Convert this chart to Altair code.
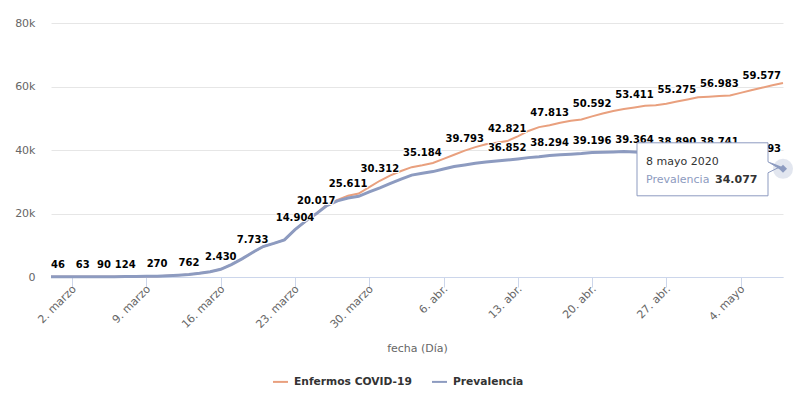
import json
import altair as alt
import pandas as pd

# ---------------- data ----------------
fechas = pd.date_range("2020-02-29", "2020-05-08", freq="D").strftime("%Y-%m-%d").tolist()
series_names = ["Enfermos COVID-19", "Prevalencia"]
colores = ["#e9a07e", "#8d9bc0"]
grosores = [2, 3]

enfermos = [46, 52, 58, 63, 76, 90, 105, 124, 170, 215,
            270, 420, 580, 762, 1150, 1650, 2430, 3900, 5700, 7733,
            9600, 10600, 11700, 14904, 17600, 20017, 22800, 24300, 25611, 26300,
            28300, 30312, 32000, 33400, 34600, 35184, 35900, 37200, 38500, 39793,
            40900, 41800, 42300, 42821, 44300, 46000, 47200, 47813, 48600, 49200,
            49600, 50592, 51500, 52300, 52900, 53411, 53900, 54100, 54600, 55275,
            55900, 56600, 56800, 56983, 57200, 58000, 58800, 59577, 60400, 61100]

prevalencia = [46, 52, 58, 63, 76, 90, 105, 124, 170, 215,
               270, 420, 580, 762, 1150, 1650, 2430, 3900, 5700, 7733,
               9600, 10600, 11700, 14904, 17600, 19900, 22500, 24000, 24900, 25400,
               26800, 28100, 29500, 30800, 32100, 32700, 33200, 34000, 34800, 35300,
               35800, 36200, 36500, 36852, 37200, 37600, 37900, 38294, 38500, 38700,
               38900, 39196, 39300, 39400, 39500, 39364, 39200, 39100, 39000, 38890,
               38800, 38800, 38700, 38741, 38300, 37800, 37200, 36493, 35400, 34077]

enfermos_label_dates = ["2020-03-25", "2020-03-28", "2020-03-31", "2020-04-04",
                        "2020-04-08", "2020-04-12", "2020-04-16", "2020-04-20",
                        "2020-04-24", "2020-04-28", "2020-05-02", "2020-05-06"]
prevalencia_label_dates = ["2020-02-29", "2020-03-03", "2020-03-05", "2020-03-07",
                           "2020-03-10", "2020-03-13", "2020-03-16", "2020-03-19",
                           "2020-03-23", "2020-04-12", "2020-04-16", "2020-04-20",
                           "2020-04-24", "2020-04-28", "2020-05-02", "2020-05-06"]

tick_dates = [(2020, 3, 2), (2020, 3, 9), (2020, 3, 16), (2020, 3, 23), (2020, 3, 30),
              (2020, 4, 6), (2020, 4, 13), (2020, 4, 20), (2020, 4, 27), (2020, 5, 4)]
meses_cortos = ["ene.", "feb.", "marzo", "abr.", "mayo", "jun.",
                "jul.", "ago.", "sept.", "oct.", "nov.", "dic."]
meses_largos = ["enero", "febrero", "marzo", "abril", "mayo", "junio",
                "julio", "agosto", "septiembre", "octubre", "noviembre", "diciembre"]
y_ticks = [0, 20000, 40000, 60000, 80000]

hover_serie = "Prevalencia"
hover_fecha = "2020-05-08"


def fmt(v):
    return f"{v:,}".replace(",", ".")


rows = []
for name, vals, lab in [(series_names[0], enfermos, enfermos_label_dates),
                        (series_names[1], prevalencia, prevalencia_label_dates)]:
    for f, v in zip(fechas, vals):
        rows.append({"fecha": f, "serie": name, "valor": v,
                     "etiqueta": fmt(v), "mostrar": f in lab})
df = pd.DataFrame(rows)
df_lab = df[df["mostrar"]].copy()
# the first label is pushed inside the plot (justified), the rest are centred
df_lab_first = df_lab[df_lab["fecha"] == fechas[0]]
df_lab_rest = df_lab[df_lab["fecha"] != fechas[0]]

hv = df[(df["serie"] == hover_serie) & (df["fecha"] == hover_fecha)].iloc[0]
d = pd.Timestamp(hover_fecha)
tip = pd.DataFrame([{
    "fecha": hover_fecha, "valor": int(hv["valor"]), "serie": hover_serie,
    "titulo": f"{d.day} {meses_largos[d.month - 1]} {d.year}",
    "numero": fmt(int(hv["valor"])),
}])

# ---------------- encodings ----------------
FONT = "DejaVu Sans"
col_hover = colores[series_names.index(hover_serie)]

x_scale = alt.Scale(type="utc", nice=False,
                    domain=[alt.DateTime(year=2020, month=2, date=29, utc=True),
                            alt.DateTime(year=2020, month=5, date=8, utc=True)])
y_scale = alt.Scale(domain=[0, 80000], nice=False)

label_expr_x = ("utcdate(datum.value) + '. ' + " + json.dumps(meses_cortos).replace('"', "'")
                + "[utcmonth(datum.value)]")

x_axis = alt.Axis(
    values=[alt.DateTime(year=a, month=m, date=dd, utc=True) for a, m, dd in tick_dates],
    labelExpr=label_expr_x, labelAngle=-45, labelAlign="right", labelBaseline="middle",
    labelFontSize=11, labelColor="#666666", labelPadding=0, labelOffset=2,
    tickSize=10, tickColor="#ccd6eb", domainColor="#ccd6eb", grid=False,
    title="fecha (Día)", titleFontSize=11, titleColor="#666666", titleFontWeight="normal",
    titleY=71, titleBaseline="middle", labelFont=FONT, titleFont=FONT)

y_axis = alt.Axis(values=y_ticks,
                  labelExpr="datum.value == 0 ? '0' : (datum.value / 1000) + 'k'",
                  grid=True, gridColor="#e6e6e6", domain=False, ticks=False,
                  labelPadding=16, title=None, labelFontSize=11, labelColor="#666666",
                  labelFont=FONT)

X = alt.X("fecha:T", scale=x_scale, axis=x_axis)
Xn = alt.X("fecha:T", scale=x_scale)
Y = alt.Y("valor:Q", scale=y_scale, axis=y_axis)
Yn = alt.Y("valor:Q", scale=y_scale)

color_enc = alt.Color("serie:N", scale=alt.Scale(domain=series_names, range=colores),
                      sort=series_names,
                      legend=alt.Legend(orient="none", legendX=221, legendY=350,
                                        direction="horizontal", title=None,
                                        labelFontSize=10.7, labelFontWeight="bold",
                                        labelColor="#333333", labelFont=FONT,
                                        symbolType="stroke", symbolStrokeWidth=2,
                                        symbolSize=225, columnPadding=16, labelOffset=5,
                                        padding=0))

line_layers = []
for name, sw in zip(series_names, grosores):
    line_layers.append(
        alt.Chart(df).transform_filter(alt.datum.serie == name)
        .mark_line(interpolate="linear", strokeWidth=sw)
        .encode(x=X, y=Y, color=color_enc, order=alt.Order("fecha:T"))
    )


def label_layers(data, align):
    halo_l = alt.Chart(data).mark_text(
        dy=-12, baseline="middle", align=align, fontSize=10, fontWeight="bold",
        font=FONT, fill="#000000", stroke="#ffffff", strokeWidth=2, strokeJoin="round"
    ).encode(x=Xn, y=Yn, text="etiqueta:N")
    txt_l = alt.Chart(data).mark_text(
        dy=-12, baseline="middle", align=align, fontSize=10, fontWeight="bold",
        font=FONT, fill="#000000"
    ).encode(x=Xn, y=Yn, text="etiqueta:N")
    return [halo_l, txt_l]


lab_layers = label_layers(df_lab_rest, "center") + label_layers(df_lab_first, "left")

halo = alt.Chart(tip).mark_point(shape="circle", size=400, filled=True,
                                 fill=col_hover, opacity=0.25, stroke=None).encode(x=Xn, y=Yn)
marker = alt.Chart(tip).mark_point(shape="diamond", size=64, filled=True,
                                   fill=col_hover, opacity=1, stroke=None).encode(x=Xn, y=Yn)

box_path = "M -146 -26 H -15 V -7 L -5 -1 L -15 4 V 27 H -146 Z"
box = alt.Chart(tip).mark_point(shape=box_path, size=4, filled=True, fill="#ffffff",
                                fillOpacity=1, stroke=col_hover, strokeWidth=1,
                                opacity=1).encode(x=Xn, y=Yn)

t_title = alt.Chart(tip).mark_text(align="left", baseline="middle", dx=-137, dy=-7,
                                   fontSize=11, font=FONT, color="#333333").encode(
    x=Xn, y=Yn, text="titulo:N")
t_serie = alt.Chart(tip).mark_text(align="left", baseline="middle", dx=-137, dy=11,
                                   fontSize=11, font=FONT, color=col_hover).encode(
    x=Xn, y=Yn, text="serie:N")
t_num = alt.Chart(tip).mark_text(align="left", baseline="middle", dx=-68, dy=11,
                                 fontSize=11, font=FONT, fontWeight="bold",
                                 color="#333333").encode(x=Xn, y=Yn, text="numero:N")

chart = alt.layer(*line_layers, *lab_layers, box, halo, marker,
                  t_title, t_serie, t_num).properties(
    width=732, height=254,
    padding={"left": 43, "top": 15, "right": 10, "bottom": 112},
    autosize=alt.AutoSizeParams(type="none"),
).configure(font=FONT, background="#ffffff").configure_view(stroke=None)

chart.save("out.html", embed_options={"renderer": "svg", "actions": False})
